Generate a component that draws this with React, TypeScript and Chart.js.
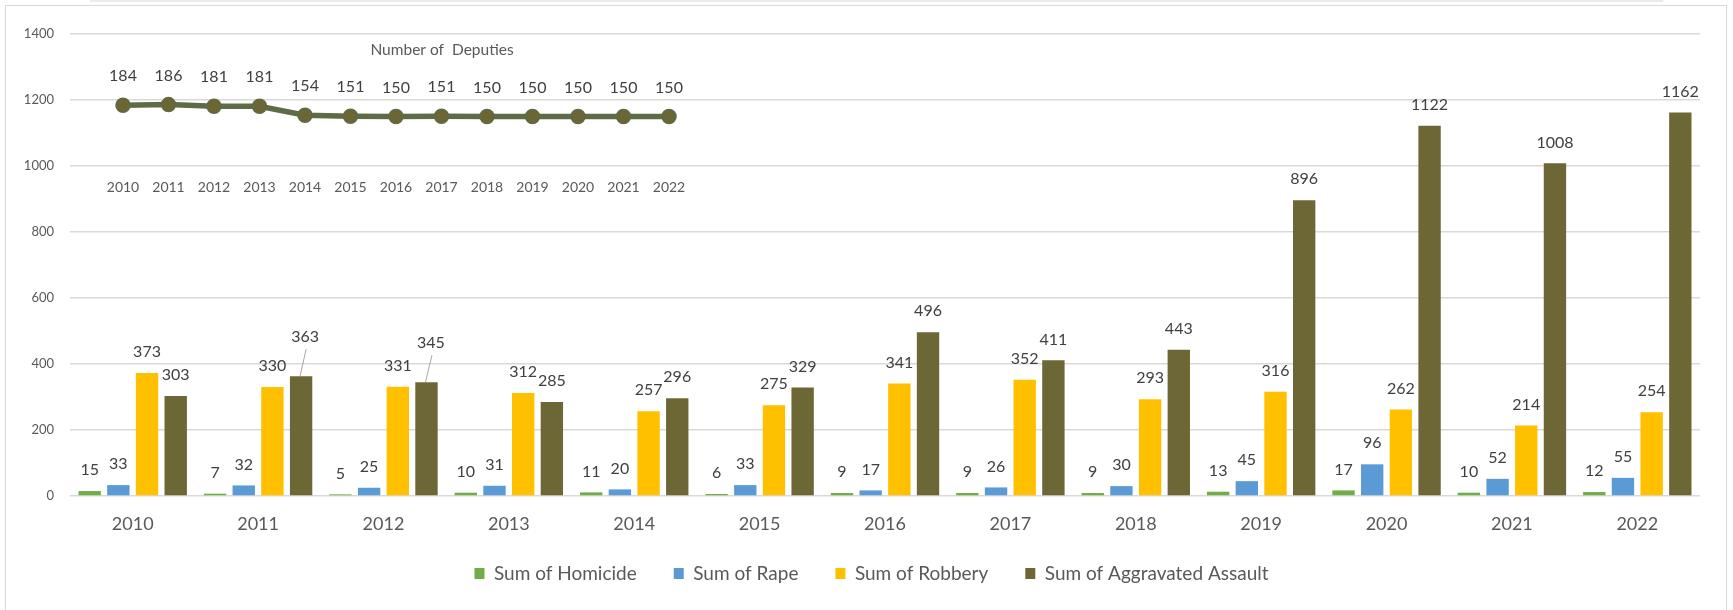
import React, { useEffect, useRef } from "react";
import { Chart, registerables } from "chart.js";

Chart.register(...registerables);

const YEARS = ["2010", "2011", "2012", "2013", "2014", "2015", "2016", "2017", "2018", "2019", "2020", "2021", "2022"];
const HOMICIDE = [15, 7, 5, 10, 11, 6, 9, 9, 9, 13, 17, 10, 12];
const RAPE = [33, 32, 25, 31, 20, 33, 17, 26, 30, 45, 96, 52, 55];
const ROBBERY = [373, 330, 331, 312, 257, 275, 341, 352, 293, 316, 262, 214, 254];
const AGG_ASSAULT = [303, 363, 345, 285, 296, 329, 496, 411, 443, 896, 1122, 1008, 1162];
const DEPUTIES = [184, 186, 181, 181, 154, 151, 150, 151, 150, 150, 150, 150, 150];

const FONT = "Lato";
const TEXT = "#595959";
const LABEL = "#404040";

const valueLabels = {
  id: "valueLabels",
  afterDatasetsDraw(chart: any, _args: any, opts: any) {
    const ctx = chart.ctx;
    ctx.save();
    ctx.font = `${opts.size}px ${FONT}`;
    ctx.fillStyle = opts.color;
    ctx.textAlign = "center";
    ctx.textBaseline = "middle";
    chart.data.datasets.forEach((ds: any, di: number) => {
      const meta = chart.getDatasetMeta(di);
      meta.data.forEach((el: any, i: number) => {
        const v = ds.data[i];
        let x = el.x;
        let y = el.y - opts.offset;
        const moved = opts.moved ? opts.moved[`${di}-${i}`] : null;
        if (moved) {
          x = el.x + moved.dx;
          y = el.y - moved.rise;
          ctx.save();
          ctx.strokeStyle = opts.leader;
          ctx.lineWidth = 1;
          ctx.beginPath();
          ctx.moveTo(el.x - 1, el.y);
          ctx.lineTo(x + 1, y + 12);
          ctx.stroke();
          ctx.restore();
        }
        ctx.fillText(String(v), x, y);
      });
    });
    ctx.restore();
  },
};

export default function App() {
  const mainRef = useRef<HTMLCanvasElement>(null);
  const insetRef = useRef<HTMLCanvasElement>(null);

  useEffect(() => {
    const main = new Chart(mainRef.current as HTMLCanvasElement, {
      type: "bar",
      data: {
        labels: YEARS,
        datasets: [
          { label: "Sum of Homicide", data: HOMICIDE, backgroundColor: "#70AD47" },
          { label: "Sum of Rape", data: RAPE, backgroundColor: "#5B9BD5" },
          { label: "Sum of Robbery", data: ROBBERY, backgroundColor: "#FFC000" },
          { label: "Sum of Aggravated Assault", data: AGG_ASSAULT, backgroundColor: "#6D6735" },
        ],
      },
      options: {
        responsive: false,
        animation: false,
        devicePixelRatio: 1,
        layout: { padding: { left: 10, right: 0, top: 34, bottom: 17 } },
        datasets: { bar: { categoryPercentage: 0.915, barPercentage: 0.78, borderWidth: 0 } } as any,
        plugins: {
          tooltip: { enabled: false },
          legend: {
            position: "bottom",
            labels: {
              boxWidth: 10,
              boxHeight: 11,
              padding: 37,
              color: TEXT,
              font: { family: FONT, size: 19 },
            },
          },
          valueLabels: {
            size: 16,
            color: LABEL,
            offset: 21,
            leader: "#a6a6a6",
            moved: { "3-1": { dx: 4, rise: 39 }, "3-2": { dx: 4.5, rise: 39 } },
          },
        } as any,
        scales: {
          x: {
            grid: { display: false, drawTicks: false },
            border: { display: false },
            ticks: {
              color: TEXT,
              font: { family: FONT, size: 18 },
              mirror: true,
              padding: -39,
              maxRotation: 0,
              autoSkip: false,
            },
            afterFit(s: any) {
              s.height = 31;
            },
          },
          y: {
            min: 0,
            max: 1400,
            ticks: {
              stepSize: 200,
              color: TEXT,
              font: { family: FONT, size: 13 },
              padding: 16,
              callback: (v: any) => String(v),
            },
            grid: { color: "#d9d9d9", lineWidth: 1.5, drawTicks: false },
            border: { display: false },
            afterFit(s: any) {
              s.width = 60;
            },
          },
          yRight: {
            type: "linear",
            position: "right",
            grid: { display: false },
            border: { display: false },
            ticks: { display: false },
            afterFit(s: any) {
              s.width = 33;
            },
          },
        },
      },
      plugins: [valueLabels],
    });

    const inset = new Chart(insetRef.current as HTMLCanvasElement, {
      type: "line",
      data: {
        labels: YEARS,
        datasets: [
          {
            label: "Number of Deputies",
            data: DEPUTIES,
            borderColor: "#5E6B47",
            borderWidth: 5.5,
            pointRadius: 7,
            pointBackgroundColor: "#6B6634",
            pointBorderColor: "#5E6B47",
            pointBorderWidth: 1.5,
            tension: 0,
            clip: false as any,
          },
        ],
      },
      options: {
        responsive: false,
        animation: false,
        devicePixelRatio: 1,
        layout: { padding: 0 },
        plugins: {
          tooltip: { enabled: false },
          legend: { display: false },
          title: {
            display: true,
            text: "Number of  Deputies",
            color: TEXT,
            font: { family: FONT, size: 15.5, weight: "normal" },
            padding: { top: 41, bottom: 40.4 },
          },
          valueLabels: { size: 16, color: LABEL, offset: 29 },
        } as any,
        scales: {
          x: {
            offset: false,
            grid: { display: false, drawTicks: false },
            border: { display: false },
            ticks: { color: TEXT, font: { family: FONT, size: 14 }, padding: 46, maxRotation: 0, autoSkip: false },
            afterFit(s: any) {
              s.height = 87;
            },
          },
          y: {
            min: 100,
            max: 200,
            position: "left",
            grid: { display: false },
            border: { display: false },
            ticks: { display: false },
            afterFit(s: any) {
              s.width = 123;
            },
          },
          yr: {
            type: "linear",
            position: "right",
            grid: { display: false },
            border: { display: false },
            ticks: { display: false },
            afterFit(s: any) {
              s.width = 215;
            },
          },
        },
      },
      plugins: [valueLabels],
    });

    return () => {
      main.destroy();
      inset.destroy();
    };
  }, []);

  return (
    <div style={{ position: "fixed", left: 0, top: 0, width: 1733, height: 610, background: "#ffffff", overflow: "hidden" }}>
      <div style={{ position: "absolute", left: 90, top: 0, width: 1573, height: 2, background: "#ebebeb" }} />
      <div
        style={{
          position: "absolute",
          left: 5,
          top: 5,
          width: 1722,
          height: 610,
          border: "1px solid #d9d9d9",
          boxSizing: "border-box",
        }}
      />
      <canvas ref={mainRef} width={1733} height={610} style={{ position: "absolute", left: 0, top: 0, width: 1733, height: 610 }} />
      <canvas
        ref={insetRef}
        width={884}
        height={220}
        style={{ position: "absolute", left: 0, top: 0, width: 884, height: 220, pointerEvents: "none" }}
      />
    </div>
  );
}
